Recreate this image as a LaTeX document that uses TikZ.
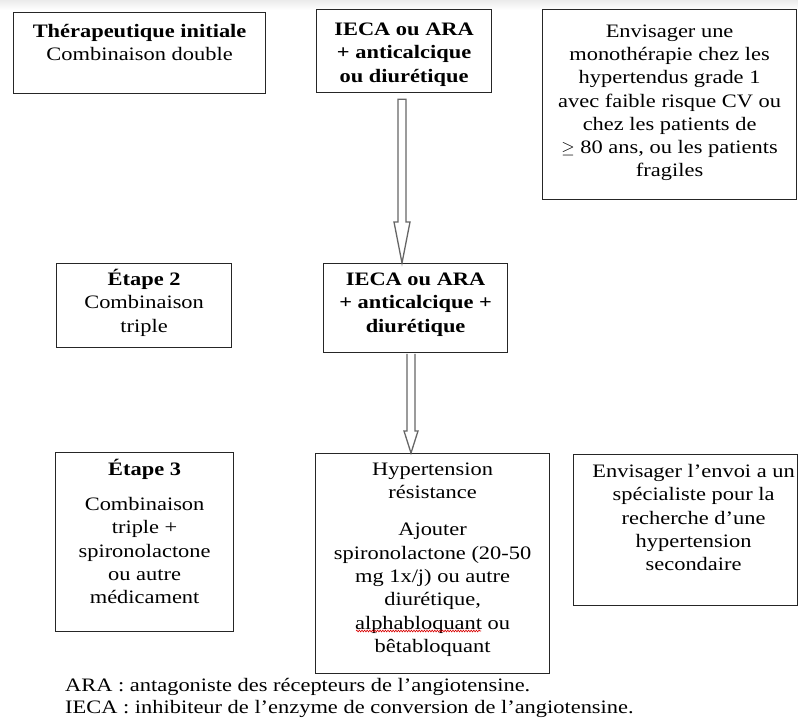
\documentclass[tikz,border=0pt]{standalone}
\usepackage{fontspec}
\setmainfont{Liberation Serif}[FakeStretch=1.18]
\usetikzlibrary{calc,decorations.pathmorphing}

% Fixed-size cell: width, height, first baseline offset, first line, remaining lines
\newcommand\cellbox[5]{\parbox[c][#2][t]{#1}{\centering\fontsize{19}{23.3}\selectfont
  \vspace*{#3}\leavevmode\smash{#4}#5\par}}

\tikzset{
  cellframe/.style={draw=black!85, line width=1.2pt, fill=white, inner sep=0pt, anchor=north west},
  hollow/.style={draw=black!60, line width=1.3pt, fill=white, line join=miter},
  notetext/.style={anchor=base west, inner sep=0pt, font=\fontsize{19}{22}\selectfont},
  spellmark/.style={draw=red!85!black, line width=0.6pt, decorate,
    decoration={snake, amplitude=0.9pt, segment length=2.6pt}}
}

\begin{document}
\begin{tikzpicture}[x=1pt, y=-1pt]
\useasboundingbox (0,0) rectangle (798,718);
\shade[top color=black!8, bottom color=white] (0,0) rectangle (798,10);

% first row
\node[cellframe] (b1) at (13,12)
  {\cellbox{252pt}{81pt}{24.5pt}{\bfseries Thérapeutique initiale}{\\Combinaison double}};
\node[cellframe] (b2) at (316,9)
  {\cellbox{175pt}{83pt}{26pt}{\bfseries IECA ou ARA}{\\\bfseries + anticalcique\\ou diurétique}};
\node[cellframe] (b3) at (542,9)
  {\cellbox{254pt}{190pt}{27.5pt}{Envisager une}{\\monothérapie chez les\\hypertendus grade 1\\avec faible risque CV ou\\chez les patients de\\$\geq$ 80 ans, ou les patients\\fragiles}};

% second row
\node[cellframe] (b4) at (56,263)
  {\cellbox{175pt}{84pt}{22pt}{\bfseries Étape 2}{\\Combinaison\\triple}};
\node[cellframe] (b5) at (323,263)
  {\cellbox{184pt}{89pt}{22pt}{\bfseries IECA ou ARA}{\\\bfseries + anticalcique +\\diurétique}};

% third row
\node[cellframe] (b6) at (55,452)
  {\cellbox{178pt}{179pt}{23pt}{\bfseries Étape 3}{\par\vspace{11.7pt}Combinaison\\triple +\\spironolactone\\ou autre\\médicament}};
\node[cellframe] (b7) at (315,453)
  {\cellbox{234pt}{220pt}{22pt}{Hypertension}{\\résistance\par\vspace{13.7pt}Ajouter\\spironolactone (20-50\\mg 1x/j) ou autre\\diurétique,\\alphabloquant ou\\bêtabloquant}};
\node[cellframe] (b8) at (573,454)
  {\cellbox{224pt}{151pt}{23pt}{Envisager l’envoi a un}{\leftskip=16pt plus 1fil\\spécialiste pour la\\recherche d’une\\hypertension\\secondaire}};

% hollow arrows between the treatment steps
\draw[hollow] let \p1=(b2.south), \p2=(b5.north) in
  (398pt,\y1-6pt) -- (406pt,\y1-6pt) -- (406pt,\y2+41pt) -- (410pt,\y2+41pt)
  -- (402pt,\y2) -- (394pt,\y2+41pt) -- (398pt,\y2+41pt) -- cycle;
\draw[hollow] let \p1=(b5.south), \p2=(b7.north) in
  (407pt,\y1-0.7pt) -- (407pt,\y2+22pt) -- (404pt,\y2+22pt) -- (411pt,\y2)
  -- (418pt,\y2+22pt) -- (415pt,\y2+22pt) -- (415pt,\y1-0.7pt);

% spell-check underline
\draw[spellmark] (356,631) -- (481,631);

% abbreviations
\node[notetext] (n1) at (65,691) {ARA : antagoniste des récepteurs de l’angiotensine.};
\node[notetext] (n2) at (65,713) {IECA : inhibiteur de l’enzyme de conversion de l’angiotensine.};
\end{tikzpicture}
\end{document}
